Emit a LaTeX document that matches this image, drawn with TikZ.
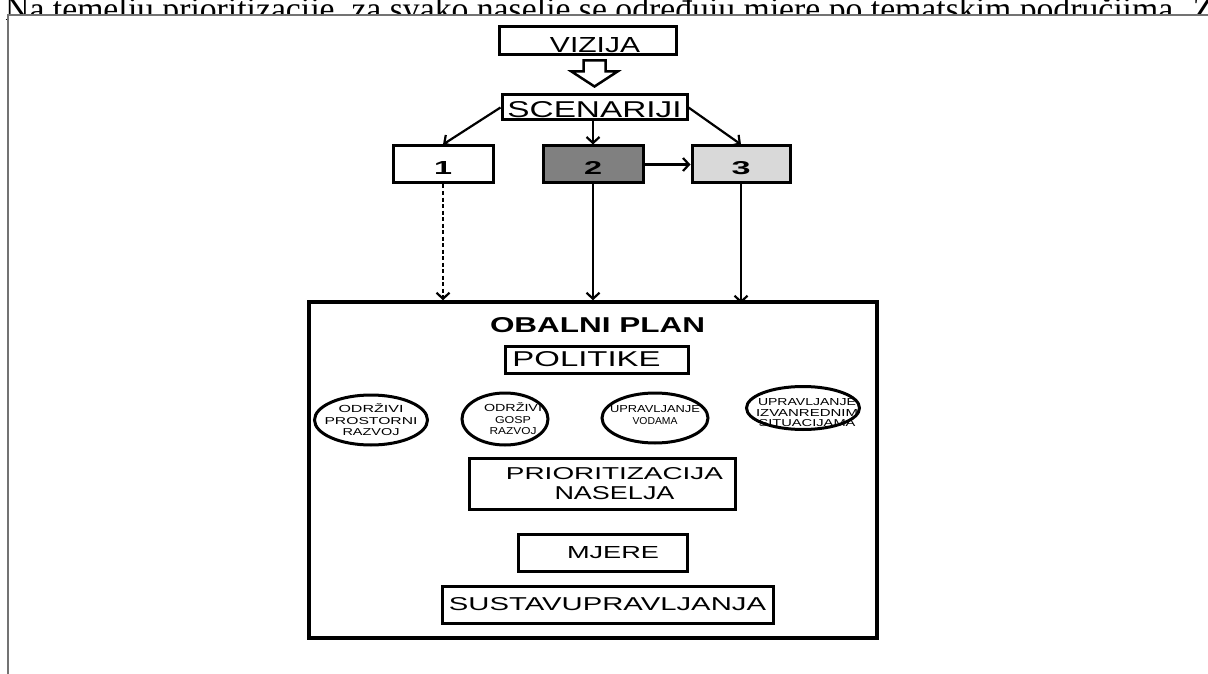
\documentclass[tikz,border=0pt]{standalone}
\usepackage{fontspec}
\setmainfont{Liberation Sans}
\newfontfamily\serifrm{Liberation Serif}
\usepackage{graphicx}
\usetikzlibrary{positioning, calc, arrows.meta, shapes.geometric}
\newcommand{\fitcaps}[3]{\resizebox{#1pt}{#2pt}{#3}}

\begin{document}
\begin{tikzpicture}[x=1pt,y=-1pt,
  box/.style={shape=rectangle, draw, line width=3pt, inner sep=0pt, align=center},
  pol/.style={shape=ellipse, draw, line width=3pt, inner sep=0pt},
  poltext/.style={align=center, inner sep=0pt, font=\fontsize{8}{11.5}\selectfont},
  scenario/.style={box, minimum width=100pt, minimum height=37pt, text height=21pt, text depth=0pt},
  link/.style={line width=2.2pt, -{Straight Barb[length=6pt,width=13pt]}},
  hollow/.style={draw, line width=2.5pt, line join=miter}]
\useasboundingbox (0,0) rectangle (1208,674);
\fill[white] (0,0) rectangle (1208,674);
% cut line of the text above the figure
\node[anchor=base west, inner sep=0pt, font=\serifrm\fontsize{33.7}{34}\selectfont] (para) at (5,20.5)
  {Na temelju prioritizacije, za svako naselje se određuju mjere po tematskim područjima. Za};
\fill[white] (7.5,15.5) rectangle (1208,674);
\draw[black!55, line width=2pt] (7.5,674) -- (7.5,15.5) -- (1208,15.5);

% vizija and scenarios
\node[box, minimum width=177pt, minimum height=28pt, text height=24pt, text depth=0pt] (vizija) at (587.5,41) {\hspace*{15pt}\fitcaps{90}{15}{VIZIJA}};
\node[box, minimum width=185pt, minimum height=25pt, text height=21pt, text depth=0pt] (scen) at (594.5,107.5) {\fitcaps{174}{16}{SCENARIJI}};
\draw[hollow] ([yshift=7pt]scen.north) -- ++(23,-15) -- ++(-12,0) -- ++(0,-11) -- ++(-22,0) -- ++(0,11) -- ++(-12,0) -- cycle;

\node[scenario, fill=white] (s1) at (443,164.5) {\fitcaps{18}{13}{\bfseries 1}};
\node[scenario, fill=black!50] (s2) at (593,164.5) {\fitcaps{18}{13}{\bfseries 2}};
\node[scenario, fill=black!15, minimum width=98pt] (s3) at (741,164.5) {\fitcaps{19}{13}{\bfseries 3}};
\draw[link] (scen.west) -- (s1.north);
\draw[link] (scen.south -| s2.north) -- (s2.north);
\draw[link] (scen.east) -- (s3.north);
\draw[link] (s2.east) -- (s3.west);

% obalni plan
\node[box, line width=3.5pt, minimum width=568pt, minimum height=336pt] (plan) at (593,470) {};
\draw[link, dash pattern=on 4pt off 2.5pt] (s1.south) -- (s1.south |- plan.north);
\draw[link] (s2.south) -- (s2.south |- plan.north);
\draw[link] (s3.south) -- ([yshift=-3pt]s3.south |- plan.north);

\node[anchor=base, inner sep=0pt] (title) at (597.5,332) {\fitcaps{215}{15}{\bfseries OBALNI PLAN}};
\node[box, minimum width=183pt, minimum height=27pt] (politike) at (596.5,359.5) {\hspace*{-20pt}\fitcaps{148}{15}{POLITIKE}};

\node[pol, minimum width=113pt, minimum height=50pt,
  label={[poltext]center:\fitcaps{65}{9}{ODRŽIVI}\\\fitcaps{93}{7}{PROSTORNI}\\\fitcaps{57}{7}{RAZVOJ}}] (e1) at (371,420) {};
\node[pol, minimum width=86pt, minimum height=52pt,
  label={[poltext, xshift=8pt]center:\fitcaps{58}{9}{ODRŽIVI}\\\fitcaps{36}{7}{GOSP}\\\fitcaps{47}{7}{RAZVOJ}}] (e2) at (505,419) {};
\node[pol, minimum width=106pt, minimum height=50pt,
  label={[poltext, yshift=3pt]center:\fitcaps{90}{7}{UPRAVLJANJE}\\\fitcaps{45}{7}{VODAMA}}] (e3) at (655,418) {};
\node[pol, minimum width=113pt, minimum height=43pt,
  label={[poltext, xshift=4pt, yshift=-5pt, font=\fontsize{8}{10.5}\selectfont]center:\fitcaps{98}{7}{UPRAVLJANJE}\\\fitcaps{102}{7}{IZVANREDNIM}\\\fitcaps{97}{7}{SITUACIJAMA}}] (e4) at (803,408) {};

\node[box, minimum width=266pt, minimum height=51pt, font=\fontsize{17}{20}\selectfont] (prio) at (602,483.5)
  {\hspace*{25pt}\fitcaps{217}{12}{PRIORITIZACIJA}\\\hspace*{25pt}\fitcaps{120}{13}{NASELJA}};
\node[box, minimum width=169pt, minimum height=37pt] (mjere) at (602.5,552.5) {\hspace*{21pt}\fitcaps{92}{12}{MJERE}};
\node[box, minimum width=331pt, minimum height=37pt] (sustav) at (607.5,604.5) {\fitcaps{317}{13}{SUSTAVUPRAVLJANJA}};
\end{tikzpicture}
\end{document}
